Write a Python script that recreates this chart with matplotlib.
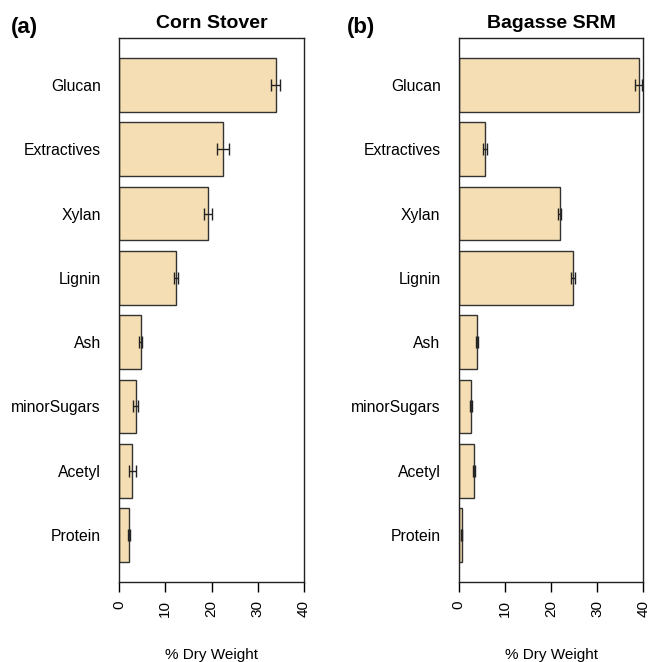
import matplotlib
matplotlib.use("Agg")
import matplotlib.pyplot as plt
import numpy as np

plt.rcParams['font.family'] = ['Liberation Sans', 'DejaVu Sans']

components = ["Glucan", "Extractives", "Xylan", "Lignin", "Ash",
              "minorSugars", "Acetyl", "Protein"]

corn_mean = [33.9, 22.5, 19.2, 12.3, 4.7, 3.6, 2.9, 2.2]
corn_err = [1.0, 1.3, 0.85, 0.4, 0.3, 0.5, 0.7, 0.2]

bagasse_mean = [39.0, 5.7, 21.9, 24.8, 4.0, 2.7, 3.3, 0.65]
bagasse_err = [0.7, 0.4, 0.3, 0.4, 0.2, 0.2, 0.2, 0.1]

fig = plt.figure(figsize=(6.51, 6.62), dpi=100)

# R barplot style: bar width 1, space 0.2, top-down order
n = len(components)
ypos = 0.7 + 1.2 * np.arange(n)[::-1]
span = ypos.max() + 0.5 - (ypos.min() - 0.5)
ylo = ypos.min() - 0.5 - 0.04 * span
yhi = ypos.max() + 0.5 + 0.04 * span


def panel(rect, means, errs, title, tag, tagx):
    ax = fig.add_axes(rect)
    ax.barh(ypos, means, height=1.0, color="#F5DEB3", edgecolor="#333333",
            linewidth=1.0, zorder=2)
    ax.errorbar(means, ypos, xerr=errs, fmt="none", ecolor="#222222",
                elinewidth=1.0, capsize=4, capthick=1.0, zorder=3)
    ax.set_xlim(0, 40)
    ax.set_ylim(ylo, yhi)
    ax.set_yticks(ypos)
    ax.set_yticklabels(components, fontsize=11.3)
    ax.tick_params(axis="y", length=0, pad=13)
    ax.set_xticks([0, 10, 20, 30, 40])
    ax.set_xticklabels(["0", "10", "20", "30", "40"], rotation=90, fontsize=11)
    ax.tick_params(axis="x", length=7, width=1, pad=6)
    for s in ax.spines.values():
        s.set_linewidth(1.0)
        s.set_color("#222222")
    ax.set_xlabel("% Dry Weight", fontsize=11, labelpad=22)
    ax.set_title(title, fontsize=14, fontweight="bold", pad=7)
    fig.text(tagx, 0.959, tag, fontsize=16, fontweight="bold", va="center")
    return ax


panel([0.1828, 0.1208, 0.2842, 0.8218], corn_mean, corn_err,
      "Corn Stover", "(a)", 0.017)
panel([0.7046, 0.1208, 0.2836, 0.8218], bagasse_mean, bagasse_err,
      "Bagasse SRM", "(b)", 0.533)

fig.savefig("out.png", dpi=100)
